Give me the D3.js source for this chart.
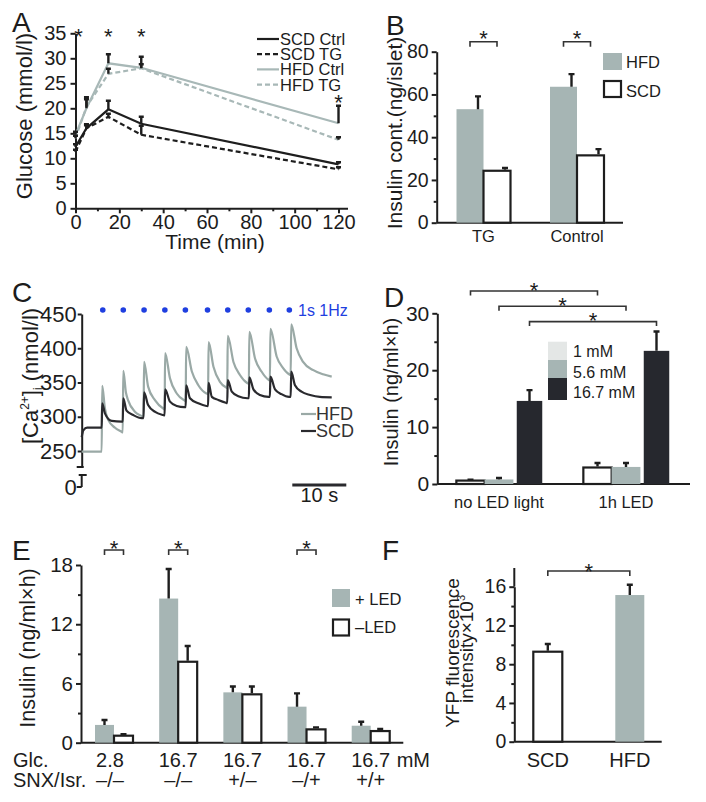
<!DOCTYPE html>
<html><head><meta charset="utf-8">
<script src="https://cdn.jsdelivr.net/npm/d3@7"></script>
<style>
body{margin:0;background:#fff}
svg{display:block}
text{font-family:"Liberation Sans",Arial,Helvetica,sans-serif;fill:#1c1c1c}
</style></head><body>
<svg id="fig" width="706" height="802"></svg>
<script>
// ---------- Panel A data ----------
const timeA = [0, 5, 15, 30, 120];
const scdCtrl = [12.3, 16.0, 19.8, 16.9, 8.8];
const scdCtrlErr = [0.5, 0.8, 1.7, 1.4, 0.4];
const scdTG = [11.3, 16.0, 18.3, 14.7, 7.8];
const scdTGErr = [0.4, 0.6, 0.6, 1.8, 0.4];
const hfdCtrl = [14.7, 20.0, 29.0, 28.1, 17.0];
const hfdCtrlErr = [0.6, 2.2, 1.8, 2.2, 3.5];
const hfdTG = [14.0, 20.3, 26.9, 28.0, 13.7];
const hfdTGErr = [0.5, 1.5, 1.0, 0.8, 0.5];
const sigTimesA = [0, 15, 30];
const sigLateA = [120];
const ticksAx = [0, 20, 40, 60, 80, 100, 120];
const ticksAy = [0, 5, 10, 15, 20, 25, 30, 35];

// ---------- Panel B data ----------
const groupsB = ["TG", "Control"];
const hfdB = [53.1, 63.6];
const hfdBErr = [6.0, 5.9];
const scdB = [24.3, 31.5];
const scdBErr = [1.3, 2.9];
const ticksBy = [0, 20, 40, 60, 80];
const minorBy = [10, 30, 50, 70];

// ---------- Panel C data (time s, [Ca2+]i nmol/l) ----------
const hfdTrace = [
[0,249],[3.7,249],[3.8,345],[4.3,312],[4.93,295],[6.17,284],[7.4,278],[7.6,277],
[7.7,367],[8.2,335],[8.6,324],[9.9,307],[11.3,300],[11.45,299],
[11.55,380],[12.3,344],[13.6,324],[15.1,312],[15.35,311],
[15.45,393],[16.35,356],[17.6,334],[19.0,324],[19.25,323],
[19.35,402],[20.4,366],[21.6,346],[23.1,334],[23.4,333],
[23.5,409],[24.4,373],[25.6,351],[26.7,343],[26.95,342],
[27.05,418],[28.1,380],[29.3,361],[30.7,349],[30.95,348],
[31.05,424],[32.1,385],[33.3,366],[34.6,354],[34.85,353],
[34.95,428.5],[36.1,388],[37.3,371],[38.4,362],[38.7,361],
[38.8,435],[39.8,400],[41.0,380],[42.9,368],[44.7,362],[46.3,358.5]];
const scdTrace = [
[0,270],[0.3,280],[1.0,284],[3.7,284],[3.8,319.6],[4.3,305],[5.55,294],[7.4,293],[7.6,293],
[7.7,327],[8.3,309],[9.55,302.5],[11.1,298],[11.45,298],
[11.55,335.7],[12.3,317],[13.6,307],[15.1,302.5],[15.35,302],
[15.45,340],[16.35,322],[17.6,315.7],[19.0,314],[19.25,314],
[19.35,346],[20.05,327],[21.6,319.6],[23.1,315.7],[23.4,315.5],
[23.5,349.5],[24.1,329],[25.3,324.5],[26.7,320.5],[26.95,320],
[27.05,353.6],[27.8,336.6],[29.0,330],[30.7,327],[30.95,327],
[31.05,357.6],[31.8,340],[33.0,331.8],[34.6,329],[34.85,329],
[34.95,358.5],[35.8,340],[37.0,333],[38.4,329],[38.7,329],
[38.8,365.8],[39.5,346],[40.7,336.6],[42.3,331.8],[44.1,329],[46.3,328.4]];
const stimTimes = [3.9, 7.7, 11.55, 15.4, 19.2, 23.3, 27.05, 30.85, 34.75, 38.45];
const ticksCy = [250, 300, 350, 400, 450];
const scaleBarC = [39, 49];

// ---------- Panel D data ----------
const groupsD = ["no LED light", "1h LED"];
const concD = ["1 mM", "5.6 mM", "16.7 mM"];
const d1mM = [0.6, 2.9];
const d1mMErr = [0.15, 0.8];
const d56mM = [0.8, 3.0];
const d56mMErr = [0.25, 0.7];
const d167mM = [14.6, 23.4];
const d167mMErr = [1.9, 3.4];
const ticksDy = [0, 10, 20, 30];
const minorDy = [5, 15, 25];

// ---------- Panel E data ----------
const glcE = ["2.8", "16.7", "16.7", "16.7", "16.7"];
const snxE = ["–/–", "–/–", "+/–", "–/+", "+/+"];
const plusLED = [1.8, 14.6, 5.1, 3.65, 1.72];
const plusLEDErr = [0.5, 3.0, 0.6, 1.35, 0.4];
const minusLED = [0.71, 8.2, 4.9, 1.35, 1.18];
const minusLEDErr = [0.14, 1.6, 0.8, 0.2, 0.22];
const sigE = [0, 1, 3];
const ticksEy = [0, 6, 12, 18];
const minorEy = [3, 9, 15];

// ---------- Panel F data ----------
const catsF = ["SCD", "HFD"];
const valsF = [9.29, 15.14];
const errF = [0.8, 1.06];
const ticksFy = [0, 4, 8, 12, 16];
const minorFy = [2, 6, 10, 14];

// ---------- styling ----------
const INK = "#1e1e1e", GRAY = "#a6b5b4", DARK = "#26282e", LINEGRAY = "#a8b8b7", CAGRAY = "#9aa9a6", BLUE = "#1f3fe0";
const svg = d3.select("#fig");

function letter(t, x, y) {
  svg.append("text").attr("x", x).attr("y", y).attr("font-size", 28).text(t);
}
function styleAxis(g, fs) {
  g.selectAll("path,line").attr("stroke", INK).attr("stroke-width", 2);
  g.selectAll("text").attr("font-size", fs).attr("fill", INK).attr("font-family", null);
}
function leftAxis(scale, x, major, minor, fs, pad, tsize) {
  const g = svg.append("g").attr("transform", `translate(${x},0)`);
  if (minor) {
    const m = g.append("g").call(d3.axisLeft(scale).tickValues(minor).tickSize(3).tickFormat("").tickSizeOuter(0));
    m.select(".domain").remove();
  }
  g.append("g").call(d3.axisLeft(scale).tickValues(major).tickSize(tsize || 5).tickSizeOuter(0).tickPadding(pad).tickFormat(d3.format("d")));
  styleAxis(g, fs);
  return g;
}
function vLabel(lines, x, y, fs) {
  const t = svg.append("text").attr("transform", `translate(${x},${y}) rotate(-90)`)
    .attr("text-anchor", "middle").attr("font-size", fs);
  t.text(lines);
  return t;
}
function errBar(x, y0, y1, cap) {
  const c = cap || 3;
  svg.append("path").attr("d", `M${x},${y0}V${y1}M${x - c},${y1}H${x + c}`)
    .attr("stroke", INK).attr("stroke-width", 2.4).attr("fill", "none");
}
function bracket(x1, x2, y, h, starDy) {
  svg.append("path").attr("d", `M${x1},${y + h}V${y}H${x2}V${y + h}`)
    .attr("stroke", "#333").attr("stroke-width", 1.6).attr("fill", "none");
  star((x1 + x2) / 2, y - (starDy || 7));
}
function star(cx, cy) {
  svg.append("text").attr("x", cx).attr("y", cy + 12.5).attr("text-anchor", "middle")
    .attr("font-size", 22).attr("fill", "#333").text("*");
}
function bar(x, w, yScale, v, fill, stroke) {
  svg.append("rect").attr("x", x).attr("width", w)
    .attr("y", yScale(v)).attr("height", yScale(0) - yScale(v))
    .attr("fill", fill)
    .attr("stroke", stroke ? INK : "none").attr("stroke-width", stroke ? 2.2 : 0);
}

// ================= Panel A =================
letter("A", 12, 32);
const xA = d3.scaleLinear().domain([0, 124.1]).range([75.5, 347.5]);
const yA = d3.scaleLinear().domain([0, 35]).range([208.3, 33.3]);
leftAxis(yA, 75.5, ticksAy, null, 20, 4);
{
  const g = svg.append("g").attr("transform", `translate(0,${yA(0)})`);
  g.append("g").call(d3.axisBottom(xA).tickValues(d3.range(10, 121, 20)).tickSize(3).tickFormat("").tickSizeOuter(0)).select(".domain").remove();
  g.append("g").call(d3.axisBottom(xA).tickValues(ticksAx).tickSize(5).tickPadding(1.5).tickSizeOuter(0));
  styleAxis(g, 20);
}
svg.append("text").attr("x", 215).attr("y", 249).attr("text-anchor", "middle").attr("font-size", 21).text("Time (min)");
vLabel("Glucose (mmol/l)", 32, 116, 22);

const seriesA = [
  {name: "SCD Ctrl", v: scdCtrl, e: scdCtrlErr, color: INK, dash: null},
  {name: "SCD TG", v: scdTG, e: scdTGErr, color: INK, dash: "5,3"},
  {name: "HFD Ctrl", v: hfdCtrl, e: hfdCtrlErr, color: LINEGRAY, dash: null},
  {name: "HFD TG", v: hfdTG, e: hfdTGErr, color: LINEGRAY, dash: "5,3"}
];
const lineA = d3.line().x((d, i) => xA(timeA[i])).y(d => yA(d));
[2, 3, 1, 0].forEach(k => {
  const s = seriesA[k];
  svg.append("path").attr("d", lineA(s.v)).attr("fill", "none")
    .attr("stroke", s.color).attr("stroke-width", 2.2)
    .attr("stroke-dasharray", s.dash);
});
seriesA.forEach(s => {
  s.v.forEach((v, i) => errBar(xA(timeA[i]), yA(v), yA(v + s.e[i]), 2.5));
});
sigTimesA.forEach(t => star(xA(t) + (t === 0 ? 3 : 0), 31));
sigLateA.forEach(t => star(xA(t), 97));
seriesA.forEach((s, i) => {
  const y = 45 + i * 15.2;
  svg.append("line").attr("x1", 257).attr("x2", 279).attr("y1", y - 6).attr("y2", y - 6)
    .attr("stroke", s.color).attr("stroke-width", 2.2).attr("stroke-dasharray", s.dash);
  svg.append("text").attr("x", 280).attr("y", y).attr("font-size", 16.5).text(s.name);
});

// ================= Panel B =================
letter("B", 386, 35);
const yB = d3.scaleLinear().domain([0, 80]).range([222.7, 51.7]);
const xB = d3.scalePoint().domain(groupsB).range([483.5, 577]);
const bwB = 27;
leftAxis(yB, 436.7, ticksBy, minorBy, 19.5, 3);
svg.append("line").attr("x1", 436.7).attr("x2", 623).attr("y1", yB(0)).attr("y2", yB(0)).attr("stroke", INK).attr("stroke-width", 2);
groupsB.forEach((g, i) => {
  const c = xB(g);
  bar(c - bwB, bwB, yB, hfdB[i], GRAY, false);
  bar(c, bwB, yB, scdB[i], "#fff", true);
  errBar(c - bwB / 2 + 8, yB(hfdB[i]), yB(hfdB[i] + hfdBErr[i]));
  errBar(c + bwB / 2 + 8, yB(scdB[i]) - 1, yB(scdB[i] + scdBErr[i]));
  svg.append("text").attr("x", c).attr("y", 241.7).attr("text-anchor", "middle").attr("font-size", 16.5).text(g);
  bracket(c - bwB / 2, c + bwB / 2, 41.7, 5, 8.5);
});
svg.append("rect").attr("x", 603).attr("y", 53).attr("width", 19).attr("height", 17).attr("fill", GRAY);
svg.append("text").attr("x", 626).attr("y", 68).attr("font-size", 16.5).text("HFD");
svg.append("rect").attr("x", 604).attr("y", 81).attr("width", 17).attr("height", 16).attr("fill", "#fff").attr("stroke", INK).attr("stroke-width", 2.2);
svg.append("text").attr("x", 626).attr("y", 97).attr("font-size", 16.5).text("SCD");
vLabel("Insulin cont.(ng/islet)", 402, 133, 21);

// ================= Panel C =================
letter("C", 12, 302);
const xC = d3.scaleLinear().domain([0, 50]).range([81.7, 351.7]);
const yC = d3.scaleLinear().domain([250, 450]).range([451, 314]);
{
  const axScale = yC.copy().domain([yC.invert(467), 450]).range([467, 314]);
  const g = svg.append("g").attr("transform", `translate(${xC(0)},0)`);
  g.append("g").call(d3.axisLeft(axScale).tickValues(ticksCy).tickSize(4).tickPadding(1).tickSizeOuter(0).tickFormat(d3.format("d")));
  g.append("path").attr("d", "M-5,467H2M-3,475H5M0,475V487M-5,487H0").attr("fill", "none");
  g.append("text").attr("x", -5).attr("y", 487).attr("dy", "0.35em").attr("text-anchor", "end").text("0");
  styleAxis(g, 22);
}
const lineC = d3.line().x(d => xC(d[0])).y(d => yC(d[1])).curve(d3.curveMonotoneX);
svg.append("path").attr("d", lineC(hfdTrace)).attr("fill", "none").attr("stroke", CAGRAY).attr("stroke-width", 2.2);
svg.append("path").attr("d", lineC(scdTrace)).attr("fill", "none").attr("stroke", "#2a2a2e").attr("stroke-width", 2.2);
svg.selectAll(".stim").data(stimTimes).enter().append("circle")
  .attr("cx", d => xC(d)).attr("cy", 310).attr("r", 2.8).attr("fill", BLUE);
svg.append("text").attr("x", 298).attr("y", 316).attr("font-size", 16).style("fill", BLUE).text("1s 1Hz");
svg.append("line").attr("x1", xC(scaleBarC[0])).attr("x2", xC(scaleBarC[1])).attr("y1", 485).attr("y2", 485).attr("stroke", "#2a2a2e").attr("stroke-width", 3);
svg.append("text").attr("x", (xC(scaleBarC[0]) + xC(scaleBarC[1])) / 2).attr("y", 502).attr("text-anchor", "middle").attr("font-size", 20).text("10 s");
svg.append("line").attr("x1", 301).attr("x2", 316).attr("y1", 414).attr("y2", 414).attr("stroke", CAGRAY).attr("stroke-width", 2.2);
svg.append("text").attr("x", 316).attr("y", 420).attr("font-size", 18).style("fill", "#333").text("HFD");
svg.append("line").attr("x1", 301).attr("x2", 316).attr("y1", 431).attr("y2", 431).attr("stroke", "#2a2a2e").attr("stroke-width", 2.2);
svg.append("text").attr("x", 316).attr("y", 437).attr("font-size", 18).style("fill", "#333").text("SCD");
{
  const t = svg.append("text").attr("transform", `translate(38,376) rotate(-90)`).attr("text-anchor", "middle").attr("font-size", 22);
  t.append("tspan").text("[Ca");
  t.append("tspan").attr("font-size", 12).attr("dy", -9).text("2+");
  t.append("tspan").attr("dy", 9).text("]");
  t.append("tspan").attr("font-size", 12).attr("dy", 4).text("i");
  t.append("tspan").attr("dy", -4).text(" (nmol/l)");
}

// ================= Panel D =================
letter("D", 384, 307);
const yD = d3.scaleLinear().domain([0, 30]).range([484, 313.3]);
const xD = d3.scalePoint().domain(groupsD).range([499, 626]);
leftAxis(yD, 437.3, ticksDy, minorDy, 21, 3);
svg.append("line").attr("x1", 437.3).attr("x2", 690).attr("y1", yD(0)).attr("y2", yD(0)).attr("stroke", INK).attr("stroke-width", 2);
const seriesD = [
  {v: d1mM, e: d1mMErr, fill: "#fff", stroke: true, off: -28.5, w: 28.3},
  {v: d56mM, e: d56mMErr, fill: GRAY, stroke: false, off: 0, w: 28.8},
  {v: d167mM, e: d167mMErr, fill: DARK, stroke: false, off: 30.5, w: 25.5}
];
groupsD.forEach((g, i) => {
  const c = xD(g);
  seriesD.forEach(s => {
    bar(c + s.off - s.w / 2, s.w, yD, s.v[i], s.fill, s.stroke);
    errBar(c + s.off, yD(s.v[i]) - (s.stroke ? 1 : 0), yD(s.v[i] + s.e[i]));
  });
  svg.append("text").attr("x", c).attr("y", 508).attr("text-anchor", "middle").attr("font-size", 16.5).text(g);
});
seriesD.forEach((s, k) => {
  bracket(xD(groupsD[0]) + s.off, xD(groupsD[1]) + s.off, 291 + k * 15.3, 4.5, 6);
});
const legFillD = ["#e4e7e6", GRAY, DARK];
concD.forEach((c, k) => {
  const y0 = [341.7, 360, 378][k], h = [18.3, 18, 22][k];
  svg.append("rect").attr("x", 548).attr("y", y0).attr("width", 19).attr("height", h).attr("fill", legFillD[k]);
  svg.append("text").attr("x", 573).attr("y", [357, 378, 398][k]).attr("font-size", 16).text(c);
});
vLabel("Insulin (ng/ml×h)", 398, 392, 20);

// ================= Panel E =================
letter("E", 12, 560);
const yE = d3.scaleLinear().domain([0, 18]).range([742.7, 565]);
const xE = d3.scalePoint().domain(d3.range(glcE.length)).range([114, 370.7]);
const bwE = 19;
leftAxis(yE, 81, ticksEy, minorEy, 20.5, 3);
svg.append("line").attr("x1", 81).attr("x2", 403.3).attr("y1", yE(0)).attr("y2", yE(0)).attr("stroke", INK).attr("stroke-width", 2);
glcE.forEach((g, i) => {
  const c = xE(i);
  const lx = i === 0 ? c - 4 : c;
  bar(c - bwE, bwE, yE, plusLED[i], GRAY, false);
  bar(c, bwE, yE, minusLED[i], "#fff", true);
  errBar(c - bwE / 2, yE(plusLED[i]), yE(plusLED[i] + plusLEDErr[i]));
  errBar(c + bwE / 2, yE(minusLED[i]) - 1, yE(minusLED[i] + minusLEDErr[i]));
  svg.append("text").attr("x", lx).attr("y", 766.7).attr("text-anchor", "middle").attr("font-size", 20).text(g);
  svg.append("text").attr("x", lx).attr("y", 786.7).attr("text-anchor", "middle").attr("font-size", 20).text(snxE[i]);
});
svg.append("text").attr("x", xE(4) + 26).attr("y", 766.7).attr("font-size", 20).text("mM");
svg.append("text").attr("x", 13).attr("y", 766.7).attr("font-size", 20).text("Glc.");
svg.append("text").attr("x", 13).attr("y", 786.7).attr("font-size", 20).text("SNX/Isr.");
sigE.forEach(i => bracket(xE(i) - bwE / 2, xE(i) + bwE / 2, 550, 5, 6.7));
svg.append("rect").attr("x", 332).attr("y", 589).attr("width", 18).attr("height", 18).attr("fill", GRAY);
svg.append("text").attr("x", 355).attr("y", 605).attr("font-size", 16.5).text("+ LED");
svg.append("rect").attr("x", 333).attr("y", 619.5).attr("width", 16).attr("height", 16).attr("fill", "#fff").attr("stroke", INK).attr("stroke-width", 2.2);
svg.append("text").attr("x", 355).attr("y", 633).attr("font-size", 16.5).text("–LED");
vLabel("Insulin (ng/ml×h)", 35, 648, 21.5);

// ================= Panel F =================
letter("F", 382, 560);
const yF = d3.scaleLinear().domain([0, 16]).range([741.7, 586.7]);
const xF = d3.scalePoint().domain(catsF).range([547.8, 629.8]);
const bwF = 29;
{
  const g = leftAxis(yF, 514.3, ticksFy, minorFy, 19.5, 3);
  g.append("line").attr("x1", 0).attr("x2", 0).attr("y1", 586.7).attr("y2", 568).attr("stroke", INK).attr("stroke-width", 2);
}
svg.append("line").attr("x1", 514.3).attr("x2", 661.7).attr("y1", yF(0)).attr("y2", yF(0)).attr("stroke", INK).attr("stroke-width", 2);
catsF.forEach((c, i) => {
  const x = xF(c);
  const isSCD = c === "SCD";
  bar(x - bwF / 2, bwF, yF, valsF[i], isSCD ? "#fff" : GRAY, isSCD);
  errBar(x, yF(valsF[i]) - (isSCD ? 1 : 0), yF(valsF[i] + errF[i]));
  svg.append("text").attr("x", x).attr("y", 766.7).attr("text-anchor", "middle").attr("font-size", 20).text(c);
});
bracket(xF(catsF[0]), xF(catsF[1]), 571, 5, 5);
vLabel("YFP fluorescence", 459, 653, 19);
{
  const t = svg.append("text").attr("transform", `translate(473,649) rotate(-90)`).attr("text-anchor", "middle").attr("font-size", 19);
  t.append("tspan").text("intensity×10");
  t.append("tspan").attr("font-size", 11).attr("dy", -8).text("3");
}
</script></body></html>
